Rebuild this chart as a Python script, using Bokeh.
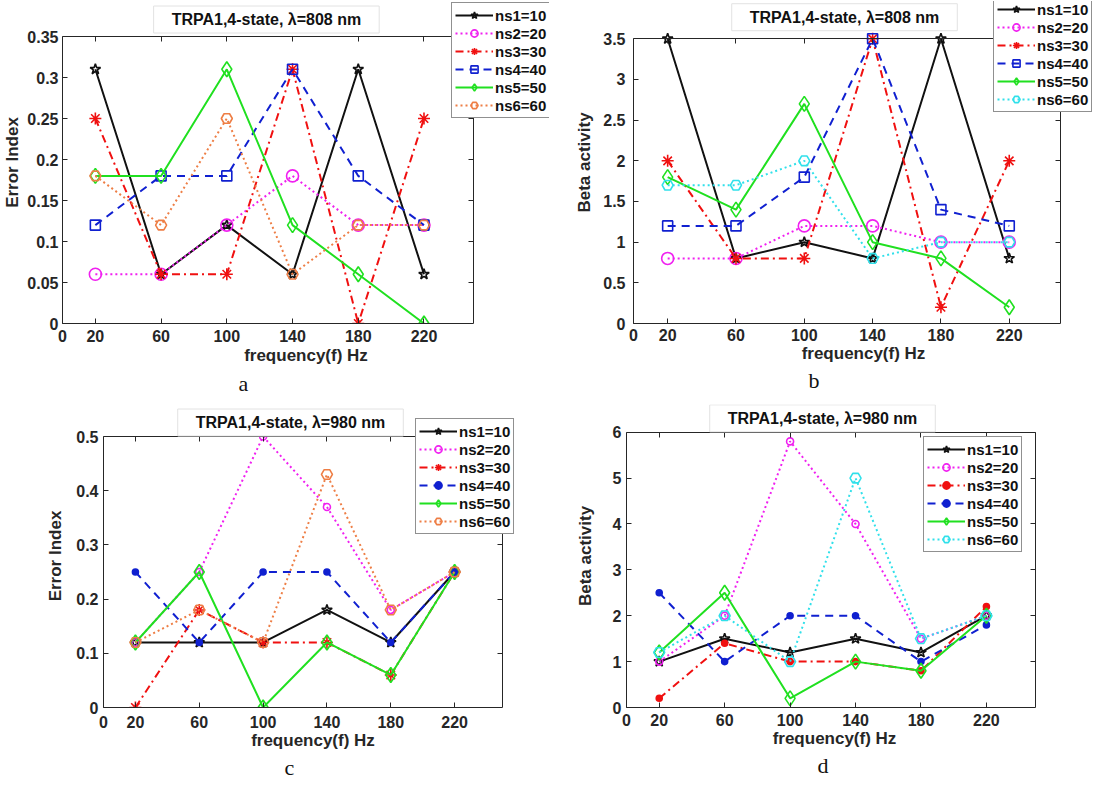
from bokeh.plotting import figure
from bokeh.models import LinearAxis, FixedTicker, Legend, LegendItem, Title, Range1d, Label
from bokeh.layouts import column, row
from bokeh.embed import file_html
from bokeh.resources import INLINE

freq = [20, 60, 100, 140, 180, 220]
x_ticks = [0, 20, 60, 100, 140, 180, 220]
series_labels = ["ns1=10", "ns2=20", "ns3=30", "ns4=40", "ns5=50", "ns6=60"]

# Panel a: Error Index, 808 nm
a_ns1 = [0.31, 0.06, 0.12, 0.06, 0.31, 0.06]
a_ns2 = [0.06, 0.06, 0.12, 0.18, 0.12, 0.12]
a_ns3 = [0.25, 0.06, 0.06, 0.31, 0.00, 0.25]
a_ns4 = [0.12, 0.18, 0.18, 0.31, 0.18, 0.12]
a_ns5 = [0.18, 0.18, 0.31, 0.12, 0.06, 0.00]
a_ns6 = [0.18, 0.12, 0.25, 0.06, 0.12, 0.12]
a_yticks = [0, 0.05, 0.1, 0.15, 0.2, 0.25, 0.3, 0.35]
a_ylabels = ["0", "0.05", "0.1", "0.15", "0.2", "0.25", "0.3", "0.35"]

# Panel b: Beta activity, 808 nm
b_ns1 = [3.5, 0.8, 1.0, 0.8, 3.5, 0.8]
b_ns2 = [0.8, 0.8, 1.2, 1.2, 1.0, 1.0]
b_ns3 = [2.0, 0.8, 0.8, 3.5, 0.2, 2.0]
b_ns4 = [1.2, 1.2, 1.8, 3.5, 1.4, 1.2]
b_ns5 = [1.8, 1.4, 2.7, 1.0, 0.8, 0.2]
b_ns6 = [1.7, 1.7, 2.0, 0.8, 1.0, 1.0]
b_yticks = [0, 0.5, 1, 1.5, 2, 2.5, 3, 3.5]
b_ylabels = ["0", "0.5", "1", "1.5", "2", "2.5", "3", "3.5"]

# Panel c: Error Index, 980 nm
c_ns1 = [0.12, 0.12, 0.12, 0.18, 0.12, 0.25]
c_ns2 = [0.12, 0.25, 0.50, 0.37, 0.18, 0.25]
c_ns3 = [0.00, 0.18, 0.12, 0.12, 0.06, 0.25]
c_ns4 = [0.25, 0.12, 0.25, 0.25, 0.12, 0.25]
c_ns5 = [0.12, 0.25, 0.00, 0.12, 0.06, 0.25]
c_ns6 = [0.12, 0.18, 0.12, 0.43, 0.18, 0.25]
c_yticks = [0, 0.1, 0.2, 0.3, 0.4, 0.5]
c_ylabels = ["0", "0.1", "0.2", "0.3", "0.4", "0.5"]

# Panel d: Beta activity, 980 nm
d_ns1 = [1.0, 1.5, 1.2, 1.5, 1.2, 2.0]
d_ns2 = [1.0, 2.0, 5.8, 4.0, 1.5, 2.0]
d_ns3 = [0.2, 1.4, 1.0, 1.0, 0.8, 2.2]
d_ns4 = [2.5, 1.0, 2.0, 2.0, 1.0, 1.8]
d_ns5 = [1.2, 2.5, 0.2, 1.0, 0.8, 2.0]
d_ns6 = [1.2, 2.0, 1.0, 5.0, 1.5, 2.0]
d_yticks = [0, 1, 2, 3, 4, 5, 6]
d_ylabels = ["0", "1", "2", "3", "4", "5", "6"]

X_MAX = 250
FONT = "Liberation Sans"
AXC = "#262626"
BLACK = "#111111"
MAGENTA = "#F020F0"
RED = "#F01010"
BLUE = "#1020D0"
GREEN = "#20E020"
ORANGE = "#EE7E45"
CYAN = "#30E0EA"


def make_panel(fig_box, axes_box, frame_rt, title_c, caption_x, legend_lt, stand,
               ymax, yticks, ylabels, ylabel, title, caption, data, styles):
    # page-pixel layout geometry
    fx, fy, fw, fh = fig_box
    L, R, T, B = axes_box
    FR, FT = frame_rt
    x_end = X_MAX * (FR - L) / (R - L)
    y_end = ymax * (B - FT) / (B - T)
    p = figure(width=fw, height=fh, output_backend="svg", toolbar_location=None,
               x_range=Range1d(0, x_end), y_range=Range1d(0, y_end),
               min_border_left=L - fx, min_border_right=fx + fw - FR,
               min_border_top=FT - fy, min_border_bottom=fy + fh - B,
               x_axis_location=None, y_axis_location=None)
    p.grid.visible = False
    p.outline_line_color = None
    p.background_fill_color = "white"
    p.border_fill_color = "white"

    def style_axis(ax, ticks, bounds, show_labels):
        ax.ticker = FixedTicker(ticks=ticks)
        ax.bounds = bounds
        ax.major_tick_in = 5
        ax.major_tick_out = 0
        ax.minor_tick_line_color = None
        ax.axis_line_color = AXC
        ax.major_tick_line_color = AXC
        ax.major_label_text_font = FONT
        ax.major_label_text_font_style = "bold"
        ax.major_label_text_font_size = "16px"
        ax.major_label_text_color = AXC
        ax.axis_label_text_font = FONT
        ax.axis_label_text_font_style = "bold"
        ax.axis_label_text_font_size = "17px"
        ax.axis_label_text_color = AXC
        if not show_labels:
            ax.major_label_text_color = None
            ax.major_label_text_font_size = "1px"
            ax.major_label_standoff = 0

    mls_x, als_x, mls_y, als_y, cap_st = stand
    xb = LinearAxis(axis_label="frequency(f) Hz")
    style_axis(xb, x_ticks, (0, X_MAX), True)
    xb.major_label_standoff = mls_x
    xb.axis_label_standoff = als_x
    xt = LinearAxis(fixed_location=ymax)
    style_axis(xt, x_ticks, (0, X_MAX), False)
    yl = LinearAxis(axis_label=ylabel)
    style_axis(yl, yticks, (0, ymax), True)
    yl.major_label_overrides = {t: s for t, s in zip(yticks, ylabels)}
    yl.major_label_standoff = mls_y
    yl.axis_label_standoff = als_y
    yr = LinearAxis(fixed_location=X_MAX)
    style_axis(yr, yticks, (0, ymax), False)
    p.add_layout(xb, "below")
    p.add_layout(xt, "above")
    p.add_layout(yl, "left")
    p.add_layout(yr, "right")

    # title box above the axes
    tcx, tcy = title_c
    p.add_layout(Label(x=X_MAX * (tcx - L) / (R - L), y=ymax * (B - tcy) / (B - T),
                       text=title, text_align="center", text_baseline="middle",
                       text_font=FONT, text_font_style="bold", text_font_size="16px",
                       text_color=BLACK, background_fill_color="white",
                       border_line_color="#E2E2E2", padding=(18, 5)))

    # sub-figure caption
    p.add_layout(Title(text=caption, align="left", offset=caption_x - L - 6,
                       text_font="Liberation Serif", text_font_style="normal",
                       text_font_size="22px", text_color=BLACK, standoff=cap_st), "below")

    items = []
    for lbl, ys, st in zip(series_labels, data, styles):
        color, dash, marker, msize, mfill = st
        lr = p.line(freq, ys, line_color=color, line_width=2, line_dash=dash)
        sr = p.scatter(freq, ys, marker=marker, size=msize, line_color=color,
                       line_width=1.6, fill_color=color if mfill else None)
        items.append(LegendItem(label=lbl, renderers=[lr, sr]))
    lx, lt = legend_lt
    leg_h = 2 * 3 + 6 * 18
    leg = Legend(items=items, location=(lx - L, B - (lt + leg_h)), label_text_font=FONT,
                 label_text_font_style="bold", label_text_font_size="15px",
                 label_text_color=BLACK, glyph_width=38, glyph_height=18,
                 label_height=18, spacing=0, padding=3, margin=0, label_standoff=2,
                 border_line_color="#222222", border_line_width=1,
                 background_fill_color="white", background_fill_alpha=1)
    p.add_layout(leg)
    return p


SOLID, DOT, DASHDOT, DASH = "solid", "2 3", "8 4 2 4", "8 6"

styles_a = [(BLACK, SOLID, "star", 11, False), (MAGENTA, DOT, "circle", 12, False),
            (RED, DASHDOT, "asterisk", 12, False), (BLUE, DASH, "square", 10, False),
            (GREEN, SOLID, "diamond", 15, False), (ORANGE, DOT, "hex", 11, False)]
styles_b = [(BLACK, SOLID, "star", 11, False), (MAGENTA, DOT, "circle", 12, False),
            (RED, DASHDOT, "asterisk", 12, False), (BLUE, DASH, "square", 10, False),
            (GREEN, SOLID, "diamond", 15, False), (CYAN, DOT, "hex", 11, False)]
styles_c = [(BLACK, SOLID, "star", 11, False), (MAGENTA, DOT, "circle", 7, False),
            (RED, DASHDOT, "asterisk", 12, False), (BLUE, DASH, "circle", 6, True),
            (GREEN, SOLID, "diamond", 15, False), (ORANGE, DOT, "hex", 11, False)]
styles_d = [(BLACK, SOLID, "star", 11, False), (MAGENTA, DOT, "circle", 7, False),
            (RED, DASHDOT, "circle", 6, True), (BLUE, DASH, "circle", 6, True),
            (GREEN, SOLID, "diamond", 15, False), (CYAN, DOT, "hex", 11, False)]

pa = make_panel((8, 8, 552, 398), (65, 480, 44, 331), (557, 9), (271, 27), 247, (454, 12),
                (6, 1, 4, 2, 3),
                0.35, a_yticks, a_ylabels, "Error Index", "TRPA1,4-state, \u03bb=808 nm", "a",
                [a_ns1, a_ns2, a_ns3, a_ns4, a_ns5, a_ns6], styles_a)
pb = make_panel((560, 8, 543, 398), (641, 1068, 47, 337), (1101, 9), (852, 25), 822, (1001, 12),
                (5, 0, 8, 6, 0),
                3.5, b_yticks, b_ylabels, "Beta activity", "TRPA1,4-state, \u03bb=808 nm", "b",
                [b_ns1, b_ns2, b_ns3, b_ns4, b_ns5, b_ns6], styles_b)
pc = make_panel((8, 406, 552, 382), (111, 510, 444, 715), (530, 412), (298, 430), 298, (423, 428),
                (8, 0, 5, 8, 0),
                0.5, c_yticks, c_ylabels, "Error Index", "TRPA1,4-state, \u03bb=980 nm", "c",
                [c_ns1, c_ns2, c_ns3, c_ns4, c_ns5, c_ns6], styles_c)
pd = make_panel((560, 406, 543, 382), (634, 1043, 440, 718), (1050, 412), (830, 426), 831, (931, 449),
                (6, 0, 5, 15, 0),
                6, d_yticks, d_ylabels, "Beta activity", "TRPA1,4-state, \u03bb=980 nm", "d",
                [d_ns1, d_ns2, d_ns3, d_ns4, d_ns5, d_ns6], styles_d)

layout = column(row(pa, pb, spacing=0), row(pc, pd, spacing=0), spacing=0)
open("out.html", "w").write(file_html(layout, INLINE))
